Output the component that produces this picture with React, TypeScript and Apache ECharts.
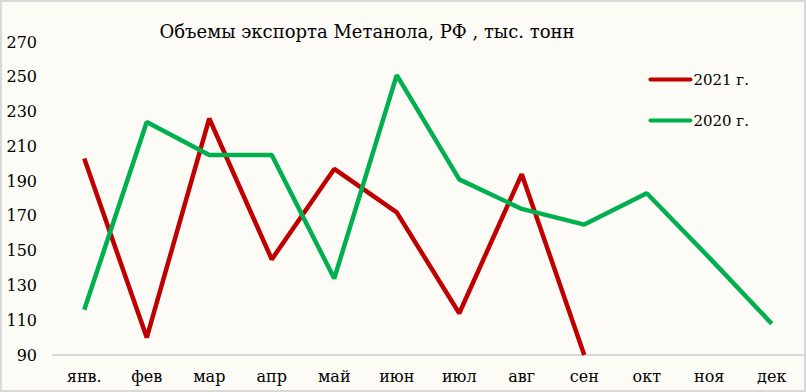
import React, { useEffect, useRef } from "react";
import * as echarts from "echarts";

const months = ["янв.", "фев", "мар", "апр", "май", "июн", "июл", "авг", "сен", "окт", "ноя", "дек"];
const values2021 = [203, 100, 226, 145, 197, 172, 114, 194, 90];
const values2020 = [116, 224, 205, 205, 134, 251, 191, 174, 165, 183, 146, 108];
const yMin = 90;
const yMax = 270;
const yStep = 20;

const FONT = "DejaVu Serif";

export default function App() {
  const ref = useRef<HTMLDivElement>(null);
  useEffect(() => {
    if (!ref.current) return;
    const chart = echarts.init(ref.current, null, { renderer: "svg" });
    chart.setOption({
      animation: false,
      backgroundColor: "transparent",
      title: {
        text: "Объемы экспорта Метанола, РФ , тыс. тонн",
        left: 362,
        textAlign: "center",
        top: 17,
        textStyle: { fontFamily: FONT, fontSize: 18, fontWeight: "normal", color: "#000" },
      },
      legend: {
        orient: "vertical",
        right: 52,
        top: 67,
        itemGap: 26,
        itemWidth: 44,
        itemHeight: 20,
        icon: "path://M2,8 L42,8 A2,2 0 0 1 42,12 L2,12 A2,2 0 0 1 2,8 Z",
        textStyle: { fontFamily: FONT, fontSize: 15, color: "#000", padding: [0, 0, 0, -4] },
        data: ["2021 г.", "2020 г."],
      },
      grid: { left: 53, right: 3, top: 42, bottom: 37, containLabel: false },
      xAxis: {
        type: "category",
        data: months,
        boundaryGap: true,
        axisLine: { lineStyle: { color: "#d9d9d9", width: 2 } },
        axisTick: { show: false },
        axisLabel: { fontFamily: FONT, fontSize: 16, color: "#000", margin: 13 },
      },
      yAxis: {
        type: "value",
        min: yMin,
        max: yMax,
        interval: yStep,
        axisLine: { show: false },
        axisTick: { show: false },
        splitLine: { show: false },
        axisLabel: { fontFamily: FONT, fontSize: 16, color: "#000", margin: 16 },
      },
      series: [
        {
          name: "2021 г.",
          type: "line",
          data: values2021,
          showSymbol: false,
          symbol: "none",
          lineStyle: { color: "#c00000", width: 4.5 },
          itemStyle: { color: "#c00000" },
        },
        {
          name: "2020 г.",
          type: "line",
          data: values2020,
          showSymbol: false,
          symbol: "none",
          lineStyle: { color: "#00b050", width: 4.5 },
          itemStyle: { color: "#00b050" },
        },
      ],
    });
    return () => chart.dispose();
  }, []);
  return (
    <div
      style={{
        position: "absolute",
        left: 0,
        top: 0,
        width: 806,
        height: 392,
        boxSizing: "border-box",
        border: "2px solid #d9d9d9",
        background: "#fcfbf6",
      }}
    >
      <div ref={ref} style={{ position: "absolute", left: -2, top: -2, width: 806, height: 392 }} />
    </div>
  );
}
